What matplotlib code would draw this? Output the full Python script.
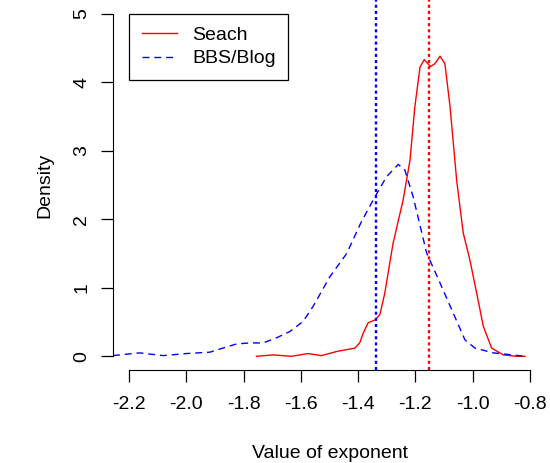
import numpy as np
import matplotlib.pyplot as plt

plt.rcParams['font.family'] = ['Liberation Sans', 'DejaVu Sans']

# density curve of the exponent, search data
search_x = [-1.755, -1.697, -1.633, -1.575, -1.528, -1.475, -1.411, -1.394, -1.382,
            -1.365, -1.341, -1.324, -1.307, -1.278, -1.243, -1.219, -1.202, -1.184,
            -1.169, -1.161, -1.147, -1.132, -1.114, -1.097, -1.079, -1.056, -1.033,
            -1.010, -0.986, -0.963, -0.934, -0.893, -0.846, -0.817]
search_y = [0.00, 0.02, 0.00, 0.04, 0.01, 0.07, 0.12, 0.20, 0.34,
            0.49, 0.53, 0.61, 0.92, 1.65, 2.28, 2.86, 3.64, 4.22,
            4.33, 4.29, 4.23, 4.27, 4.38, 4.27, 3.64, 2.57, 1.80,
            1.41, 0.92, 0.44, 0.12, 0.02, 0.00, 0.00]

# density curve, BBS/Blog data
blog_x = [-2.256, -2.163, -2.081, -2.000, -1.918, -1.872, -1.825, -1.778, -1.732,
          -1.685, -1.639, -1.592, -1.557, -1.499, -1.440, -1.388, -1.341, -1.301,
          -1.260, -1.237, -1.208, -1.161, -1.114, -1.068, -1.027, -0.992, -0.928, -0.817]
blog_y = [0.01, 0.05, 0.01, 0.04, 0.06, 0.12, 0.18, 0.195, 0.195,
          0.27, 0.36, 0.51, 0.73, 1.16, 1.50, 1.97, 2.33, 2.62,
          2.80, 2.72, 2.33, 1.51, 1.07, 0.63, 0.24, 0.12, 0.05, 0.00]

# mean exponents
search_mean = -1.153
blog_mean = -1.338

x_ticks = [-2.2, -2.0, -1.8, -1.6, -1.4, -1.2, -1.0, -0.8]
y_ticks = [0, 1, 2, 3, 4, 5]

fig = plt.figure(figsize=(5.5, 4.63), dpi=100)
ax = fig.add_axes([113 / 550, 1 - 370 / 463, 433 / 550, 370 / 463])

ax.plot(search_x, search_y, color='red', lw=1.0, label='Seach')
ax.plot(blog_x, blog_y, color='blue', lw=1.0, dashes=(5, 3.5), label='BBS/Blog')
ax.axvline(blog_mean, color='blue', lw=1.7, dashes=(1.3, 1.3))
ax.axvline(search_mean, color='red', lw=1.7, dashes=(1.3, 1.3))

ax.set_xlim(-2.256, -0.744)
ax.set_ylim(-0.2, 5.2)

for s in ['top', 'right']:
    ax.spines[s].set_visible(False)
ax.spines['left'].set_bounds(0, 5)
ax.spines['bottom'].set_bounds(-2.2, -0.8)

ax.set_xticks(x_ticks)
ax.set_xticklabels(['%.1f' % v for v in x_ticks])
ax.set_yticks(y_ticks)
ax.set_yticklabels([str(v) for v in y_ticks], rotation=90, va='center')
ax.tick_params(direction='out', length=8.5, width=0.9, labelsize=14)
ax.tick_params(axis='x', pad=10)
ax.tick_params(axis='y', pad=8)

ax.set_xlabel('Value of exponent', fontsize=14, labelpad=23)
ax.set_ylabel('Density', fontsize=14, labelpad=14)

leg = ax.legend(loc='upper left', bbox_to_anchor=(-2.2, 5), bbox_transform=ax.transData,
                borderaxespad=0, fancybox=False, edgecolor='black', framealpha=1,
                fontsize=14, handlelength=1.8, handletextpad=0.8,
                labelspacing=0.3, borderpad=0.65)
leg.get_frame().set_linewidth(0.9)

fig.savefig('out.png', dpi=100)
